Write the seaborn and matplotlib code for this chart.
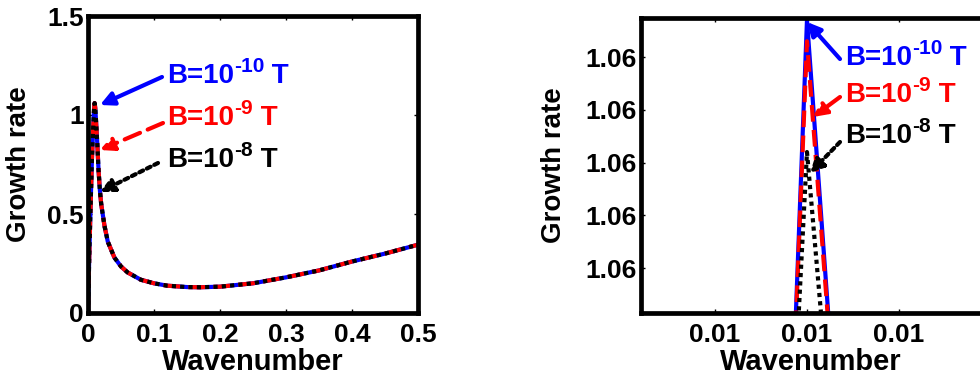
import numpy as np
import pandas as pd
import matplotlib
matplotlib.use("Agg")
import matplotlib.pyplot as plt
from matplotlib.patches import FancyArrowPatch
import seaborn as sns

# wavenumber grid and growth rates for the three field strengths
wavenumber = [0.0, 0.002, 0.004, 0.006, 0.008, 0.009, 0.010, 0.011, 0.012, 0.014,
              0.016, 0.018, 0.020, 0.025, 0.030, 0.040, 0.050, 0.060, 0.080, 0.100,
              0.120, 0.150, 0.170, 0.200, 0.250, 0.300, 0.350, 0.400, 0.450, 0.500]
tail = [0.98, 0.86, 0.72, 0.62, 0.55, 0.44, 0.36, 0.28, 0.235, 0.205, 0.168, 0.150,
        0.138, 0.131, 0.130, 0.133, 0.150, 0.180, 0.215, 0.260, 0.300, 0.345]
rise = [0.0, 0.30, 0.55, 0.78, 0.95]
growth_b10 = rise + [1.0140, 1.06007, 1.0360] + tail
growth_b9 = rise + [1.0160, 1.06003, 1.0370] + tail
growth_b8 = rise + [1.0258, 1.05982, 1.0398] + tail

field_names = ["1e-10", "1e-9", "1e-8"]
exponents = ["-10", "-9", "-8"]
colors = ["#0000ff", "#ff0000", "#000000"]
styles = ["-", (0, (4, 2)), (0, (1, 1))]

zoom_xticks = [0.0099, 0.0100, 0.0101]
zoom_yticks = [1.0596, 1.0597, 1.0598, 1.0599, 1.0600]

n = len(wavenumber)
df = pd.DataFrame({
    "k": wavenumber * 3,
    "g": growth_b10 + growth_b9 + growth_b8,
    "B": [field_names[0]] * n + [field_names[1]] * n + [field_names[2]] * n,
})

sns.set_style("ticks")
plt.rcParams["font.family"] = ["Liberation Sans", "DejaVu Sans"]
plt.rcParams["font.weight"] = "bold"
for key in ["text.color", "axes.labelcolor", "xtick.color", "ytick.color", "axes.edgecolor"]:
    plt.rcParams[key] = "black"

W, H = 980, 376
fig = plt.figure(figsize=(9.8, 3.76), dpi=100)
ax1 = fig.add_axes([88 / W, (H - 313) / H, 330 / W, 297 / H])
ax2 = fig.add_axes([641 / W, (H - 313) / H, 343 / W, 295 / H])

for ax in (ax1, ax2):
    for name, c, ls in zip(field_names, colors, styles):
        sub = df[df["B"] == name]
        sns.lineplot(data=sub, x="k", y="g", ax=ax, color=c, linestyle=ls,
                     linewidth=3, estimator=None, sort=False, legend=False)
    for sp in ax.spines.values():
        sp.set_linewidth(3.4)
        sp.set_visible(True)
    ax.tick_params(axis="x", direction="in", length=3, width=1, top=True,
                   labelsize=19, pad=7)
    ax.tick_params(axis="y", direction="in", length=3, width=1, right=True,
                   labelsize=19, pad=3)
    ax.set_xlabel("Wavenumber", fontsize=21, fontweight="bold")
    ax.set_ylabel("Growth rate", fontsize=20, fontweight="bold")

ax1.set_xlim(0, 0.5)
ax1.set_ylim(0, 1.5)
ax1.set_xticks([0, 0.1, 0.2, 0.3, 0.4, 0.5])
ax1.set_xticklabels(["0", "0.1", "0.2", "0.3", "0.4", "0.5"])
ax1.set_yticks([0, 0.5, 1, 1.5])
ax1.set_yticklabels(["0", "0.5", "1", "1.5"])
ax1.yaxis.set_label_coords(-0.17, 0.5)
ax1.xaxis.set_label_coords(0.5, -0.118)

ax2.set_xlim(0.0098196, 0.0101924)
ax2.set_ylim(1.059515, 1.060074)
ax2.set_xticks(zoom_xticks)
ax2.set_xticklabels(["%.2f" % v for v in zoom_xticks])
ax2.set_yticks(zoom_yticks)
ax2.set_yticklabels(["%.2f" % v for v in zoom_yticks])
ax2.yaxis.set_label_coords(-0.216, 0.5)
ax2.xaxis.set_label_coords(0.496, -0.119)

for ax in (ax1, ax2):
    for t in ax.get_xticklabels() + ax.get_yticklabels():
        t.set_fontweight("bold")


def px(x, y):
    return (x / W, 1 - y / H)


renderer = fig.canvas.get_renderer()


def label_text(x, y, exp, color):
    # "B=10" + raised exponent + " T", baseline at pixel y
    t1 = fig.text(*px(x, y), "B=10", color=color, fontsize=20,
                  fontweight="bold", va="baseline", ha="left")
    x1 = t1.get_window_extent(renderer).x1
    t2 = fig.text(x1 / W, (H - y + 11) / H, exp, color=color, fontsize=15,
                  fontweight="bold", va="baseline", ha="left")
    x2 = t2.get_window_extent(renderer).x1
    fig.text(x2 / W, (H - y) / H, " T", color=color, fontsize=20,
             fontweight="bold", va="baseline", ha="left")


# text baseline, arrow tail, arrow tip (pixels from top-left)
ann1 = [((167, 83), (162, 77), (100, 105)),
        ((167, 125), (163, 123), (100, 150)),
        ((167, 167), (158, 163), (100, 192))]
ann2 = [((845, 65), (840, 59), (807, 22)),
        ((845, 102), (840, 97), (813, 117)),
        ((845, 143), (840, 142), (810, 173))]
for ann in (ann1, ann2):
    for (tp, a0, a1), exp, c, ls in zip(ann, exponents, colors, styles):
        label_text(tp[0], tp[1], exp, c)
        fig.add_artist(FancyArrowPatch(
            px(*a0), px(*a1), transform=fig.transFigure,
            arrowstyle="-|>", mutation_scale=20, color=c, lw=3,
            linestyle=ls, shrinkA=0, shrinkB=0))

fig.savefig("out.png", dpi=100)
